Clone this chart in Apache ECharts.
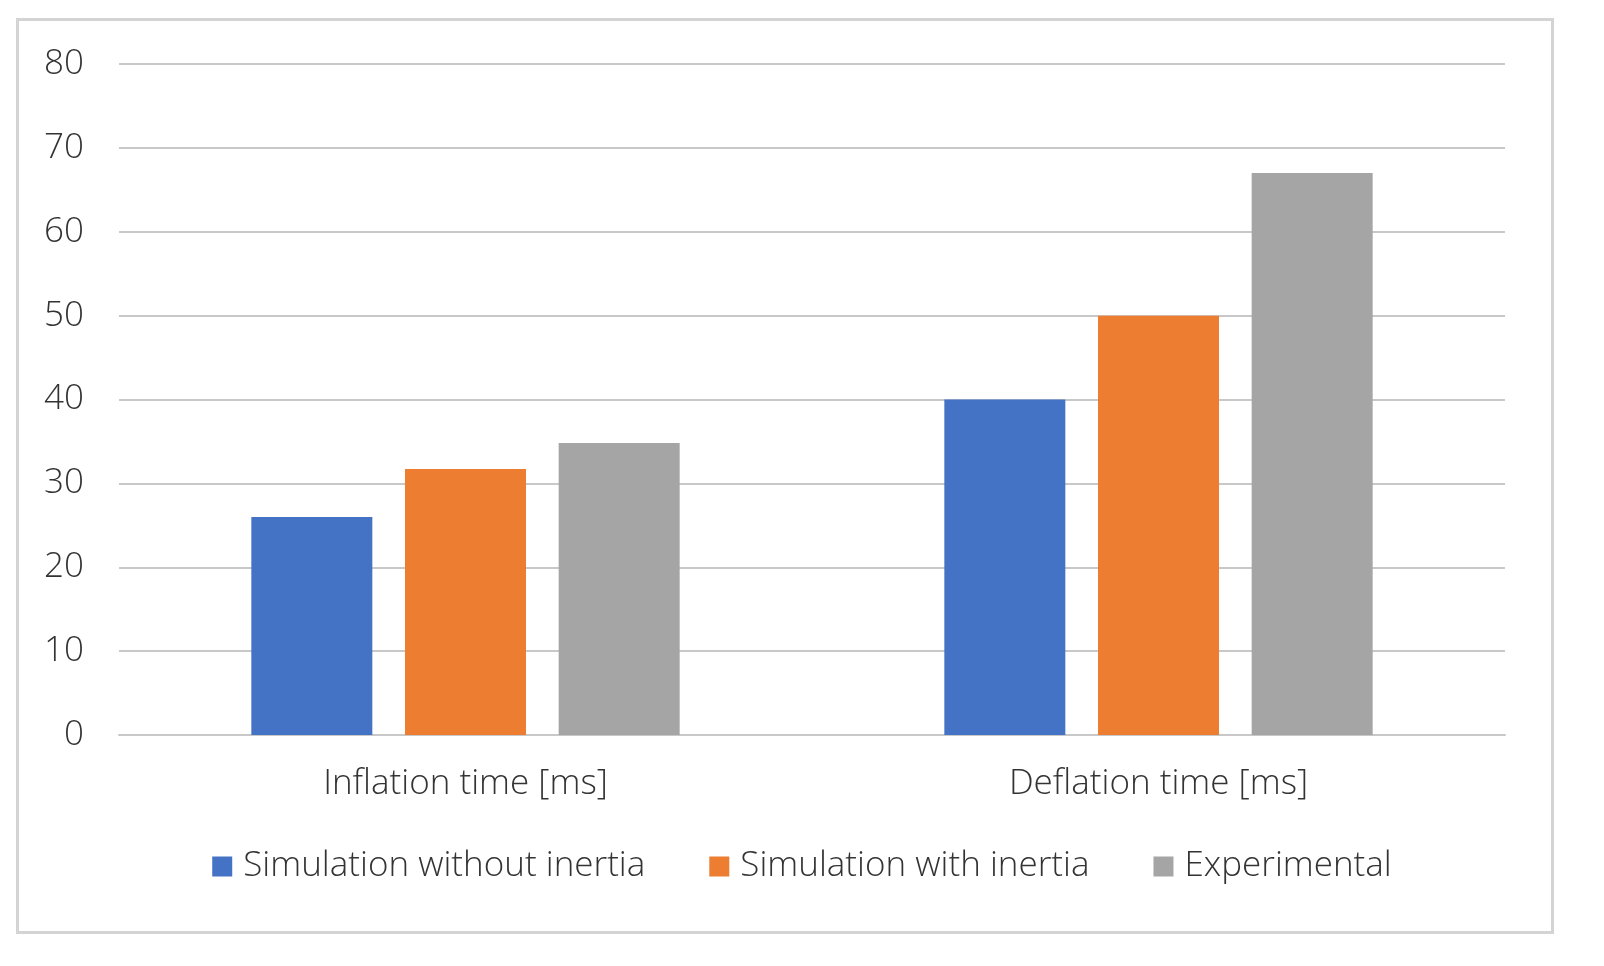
<!DOCTYPE html>
<html>
<head>
<meta charset="utf-8">
<script src="https://cdn.jsdelivr.net/npm/echarts@6/dist/echarts.min.js"></script>
<style>
html,body{margin:0;padding:0;background:#fff;}
#frame{position:absolute;left:16px;top:18px;width:1532px;height:910px;border:3px solid #d4d4d4;box-sizing:content-box;}
#chart{position:absolute;left:0;top:0;width:1604px;height:966px;}
</style>
</head>
<body>
<div id="frame"></div>
<div id="chart"></div>
<script>
const categories = ['Inflation time [ms]', 'Deflation time [ms]'];
const seriesNames = ['Simulation without inertia', 'Simulation with inertia', 'Experimental'];
const withoutInertia = [26, 40];
const withInertia = [31.7, 50];
const experimental = [34.8, 67];
const yTicks = [0, 10, 20, 30, 40, 50, 60, 70, 80];
const colors = ['#4472C4', '#ED7D31', '#A5A5A5'];

const chart = echarts.init(document.getElementById('chart'));
const font = '"Open Sans", "Noto Sans", sans-serif';
const data = [withoutInertia, withInertia, experimental];
chart.setOption({
  animation: false,
  grid: {left: 119, right: 99, top: 64, bottom: 231, containLabel: false},
  legend: {
    bottom: 77, left: 'center', itemWidth: 20, itemHeight: 20, itemGap: 64,
    icon: 'rect',
    textStyle: {fontFamily: font, fontSize: 35, fontWeight: 300, color: '#333333', padding: [0,0,0,6]},
    data: seriesNames
  },
  xAxis: {
    type: 'category', data: categories,
    axisLine: {lineStyle: {color: '#c8c8c8', width: 2}},
    axisTick: {show: false},
    axisLabel: {fontFamily: font, fontSize: 35, fontWeight: 300, color: '#333333', margin: 32}
  },
  yAxis: {
    type: 'value', min: yTicks[0], max: yTicks[yTicks.length-1], interval: 10,
    axisLine: {show: false}, axisTick: {show: false},
    axisLabel: {fontFamily: font, fontSize: 35, fontWeight: 300, color: '#333333', margin: 35},
    splitLine: {lineStyle: {color: '#c8c8c8', width: 2}}
  },
  series: seriesNames.map((n, i) => ({
    name: n, type: 'bar', data: data[i], barWidth: 121, barGap: '27%',
    itemStyle: {color: colors[i]}
  }))
});
</script>
</body>
</html>
